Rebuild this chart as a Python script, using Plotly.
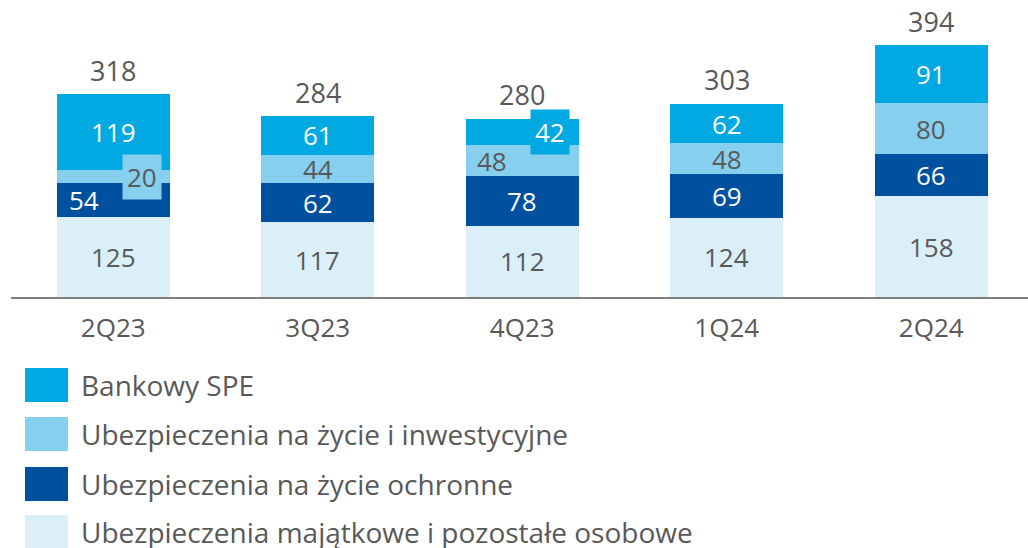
import plotly.graph_objects as go

quarters = ["2Q23", "3Q23", "4Q23", "1Q24", "2Q24"]

majatkowe = [125, 117, 112, 124, 158]
ochronne = [54, 62, 78, 69, 66]
inwestycyjne = [20, 44, 48, 48, 80]
bankowy = [119, 61, 42, 62, 91]
totals = [318, 284, 280, 303, 394]

series_names = [
    "Ubezpieczenia majątkowe i pozostałe osobowe",
    "Ubezpieczenia na życie ochronne",
    "Ubezpieczenia na życie i inwestycyjne",
    "Bankowy SPE",
]
series_values = [majatkowe, ochronne, inwestycyjne, bankowy]
colors = ["#DAEFF8", "#0050A0", "#87CFEF", "#00A9E2"]
label_colors = ["#595959", "#FFFFFF", "#595959", "#FFFFFF"]

FONT = "Open Sans"
GREY = "#595959"

fig = go.Figure()

for name, vals, col in zip(series_names, series_values, colors):
    fig.add_trace(go.Bar(x=quarters, y=vals, name=name, marker=dict(color=col, line=dict(width=0))))

# labels that are moved sideways (small segments), (series index, quarter index): xshift
shifted = {(1, 0): -29, (2, 0): 29, (2, 2): -30, (3, 2): 28}
boxed = {(2, 0), (3, 2)}

base = [0] * len(quarters)
for s, vals in enumerate(series_values):
    for q, v in enumerate(vals):
        mid = base[q] + v / 2
        key = (s, q)
        fig.add_annotation(
            x=quarters[q], y=mid, text=str(v), showarrow=False,
            xshift=shifted.get(key, 0),
            font=dict(family=FONT, size=26, color=label_colors[s]),
            bgcolor=colors[s] if key in boxed else None,
            borderpad=4,
        )
        base[q] += v

for q, t in enumerate(totals):
    fig.add_annotation(
        x=quarters[q], y=base[q], text=str(t), showarrow=False,
        yshift=24, font=dict(family=FONT, size=27, color=GREY),
    )

# legend drawn below the plot
plot_h = 297
row_y = [385, 434, 484, 532]
for i, s in enumerate(reversed(range(len(series_names)))):
    py = row_y[i]
    fig.add_shape(
        type="rect", xref="paper", yref="paper",
        x0=(25 - 11) / 1017, x1=(68 - 11) / 1017,
        y0=(plot_h - (py - 17)) / plot_h, y1=(plot_h - (py + 17)) / plot_h,
        fillcolor=colors[s], line=dict(width=0),
    )
    fig.add_annotation(
        xref="paper", yref="paper", x=(79 - 11) / 1017, y=(plot_h - py) / plot_h,
        xanchor="left", yanchor="middle", text=series_names[s], showarrow=False,
        font=dict(family=FONT, size=28, color=GREY),
    )

fig.update_layout(
    barmode="stack",
    bargap=0.447,
    width=1028,
    height=548,
    margin=dict(l=11, r=0, t=0, b=251),
    plot_bgcolor="white",
    paper_bgcolor="white",
    showlegend=False,
    font=dict(family=FONT, color=GREY),
)
fig.update_xaxes(
    type="category", range=[-0.5, 4.473],
    showline=True, linecolor="#7F7F7F", linewidth=2,
    ticks="", tickfont=dict(family=FONT, size=26, color=GREY),
    ticklabelstandoff=7,
)
fig.update_yaxes(range=[0, 466], visible=False)

fig.write_html(
    "out.html",
    config={"displayModeBar": False},
    post_script="document.body.style.margin='0';",
)
